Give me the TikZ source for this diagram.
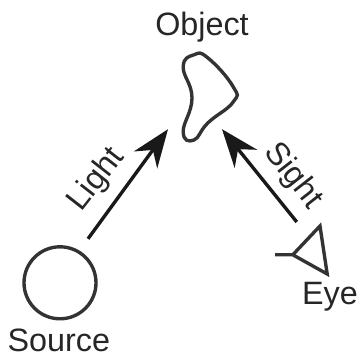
\documentclass[tikz,border=0pt]{standalone}
\usepackage{fontspec}
\setmainfont{Liberation Sans}
\usetikzlibrary{arrows.meta,positioning}

\begin{document}
\begin{tikzpicture}[
    lab/.style={font=\fontsize{23}{26}\selectfont, text=black!85, inner sep=0pt},
    arr/.style={-{Stealth[length=0.95cm, width=0.72cm]}, line width=2.4pt, black!90},
    outline/.style={line width=2.4pt, black!80}
]
\useasboundingbox (0,0) rectangle (9,8.95);

\node[lab] (object) at (5.05,8.27) {Object};
\node[lab] (source) at (1.47,0.43) {Source};
\node[lab] (eye) at (8.25,1.53) {Eye};

\node[circle, draw, outline, minimum size=1.8cm, inner sep=0pt] (ball) at (1.5,1.88) {};

% blob of the object
\draw[outline] plot[smooth cycle, tension=0.8] coordinates {(4.85,7.58) (4.58,7.28) (4.8,6.5) (4.58,5.65) (4.85,5.45) (5.2,5.88) (5.83,6.4) (5.83,6.78) (5.2,7.5)};

% eye
\coordinate (apex) at (7.32,2.58);
\coordinate (lid1) at (8.0,3.3);
\coordinate (lid2) at (8.18,2.1);
\coordinate (nerve) at (6.88,2.58);
\draw[outline] (nerve) -- (apex) -- (lid1) -- (lid2) -- (apex);

\coordinate (lightend) at (4.2,5.72);
\coordinate (sightend) at (5.55,5.72);
\coordinate (lightstart) at (2.2,2.98);
\coordinate (sightstart) at (7.42,3.4);

\draw[arr] (lightstart) -- (lightend);
\draw[arr] (sightstart) -- (sightend);

\node[lab, rotate=52] (light) at (2.42,4.45) {Light};
\node[lab, rotate=-52] (sight) at (7.32,4.55) {Sight};
\end{tikzpicture}
\end{document}
